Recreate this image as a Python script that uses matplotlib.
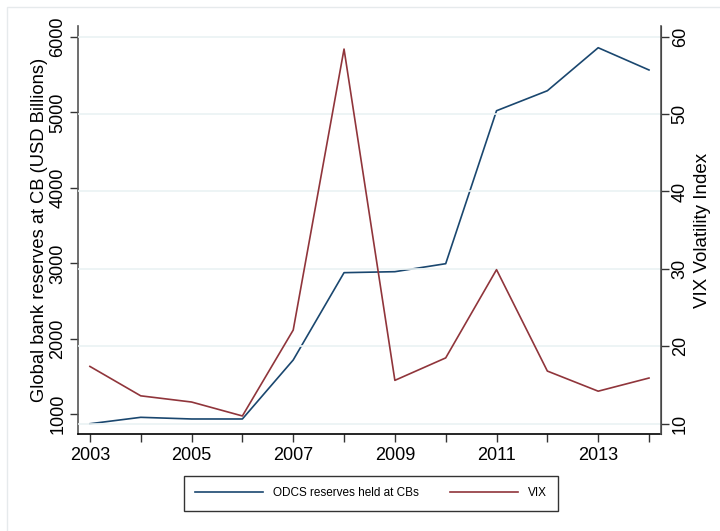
import matplotlib
matplotlib.use("Agg")
import matplotlib.pyplot as plt
from matplotlib.patches import Rectangle

years = [2003, 2004, 2005, 2006, 2007, 2008, 2009, 2010, 2011, 2012, 2013, 2014]
odcs_reserves = [875, 960, 938, 938, 1720, 2877, 2890, 2996, 5023, 5288, 5858, 5563]
vix = [17.4, 13.6, 12.8, 11.0, 22.1, 58.4, 15.6, 18.5, 29.9, 16.8, 14.2, 15.9]

left_ticks = [1000, 2000, 3000, 4000, 5000, 6000]
right_ticks = [10, 20, 30, 40, 50, 60]
x_ticks = years
x_labels = [str(y) if y % 2 == 1 else "" for y in years]

blue = "#1a476f"
red = "#90353b"
grid_c = "#eaf2f3"
font = "Liberation Sans"
plt.rcParams["font.family"] = [font, "DejaVu Sans"]

fig = plt.figure(figsize=(7.2, 5.31), dpi=100)
fig.patches.append(Rectangle((7/720, -0.1), 1.2, 1 - 7/531 + 0.1, transform=fig.transFigure,
                             fill=False, edgecolor="#e6eaec", linewidth=1.0))

ax = fig.add_axes([77.7/720, 1 - 434.3/531, (660.7 - 77.7)/720, (434.3 - 26)/531])
ax2 = ax.twinx()

ax.set_xlim(2002.76, 2014.23)
ax.set_ylim(735, 6146)
ax2.set_ylim(8.63, 61.38)

# grid follows right axis
for v in right_ticks:
    ax2.axhline(v, color=grid_c, linewidth=1.2, zorder=0)

l1, = ax.plot(years, odcs_reserves, color=blue, linewidth=1.2, label="ODCS reserves held at CBs")
l2, = ax2.plot(years, vix, color=red, linewidth=1.2, label="VIX")

ax.set_xticks(x_ticks)
ax.set_xticklabels(x_labels, fontsize=13)
ax.set_yticks(left_ticks)
ax.set_yticklabels([str(t) for t in left_ticks], fontsize=13, rotation=90, va="center")
ax2.set_yticks(right_ticks)
ax2.set_yticklabels([str(t) for t in right_ticks], fontsize=13, rotation=90, va="center")

ax.tick_params(axis="x", direction="out", length=6, width=1, colors="#333333", labelcolor="black", pad=3)
ax.tick_params(axis="y", direction="out", length=6, width=1, colors="#333333", labelcolor="black", pad=2)
ax2.tick_params(axis="y", direction="out", length=6, width=1, colors="#333333", labelcolor="black", pad=2)

for a in (ax, ax2):
    a.spines["top"].set_visible(False)
ax.spines["left"].set_color("#555555")
ax.spines["bottom"].set_color("black")
ax2.spines["right"].set_color("#555555")
ax2.spines["left"].set_visible(False)
ax2.spines["bottom"].set_visible(False)
for s in ("left", "bottom"):
    ax.spines[s].set_linewidth(1.2)
ax2.spines["right"].set_linewidth(1.2)

ax.set_ylabel("Global bank reserves at CB (USD Billions)", fontsize=13.2, labelpad=1)
ax2.set_ylabel("VIX Volatility Index", fontsize=13.5, rotation=90, labelpad=4)

leg = fig.legend(handles=[l1, l2], loc="center", bbox_to_anchor=(371/720, 1 - 493.5/531),
                 ncol=2, fontsize=8.5, frameon=True, fancybox=False, edgecolor="black",
                 handlelength=5.7, handletextpad=0.85, columnspacing=2.7, borderpad=0.95)
leg.get_frame().set_linewidth(1.0)

fig.savefig("out.png", dpi=100)
